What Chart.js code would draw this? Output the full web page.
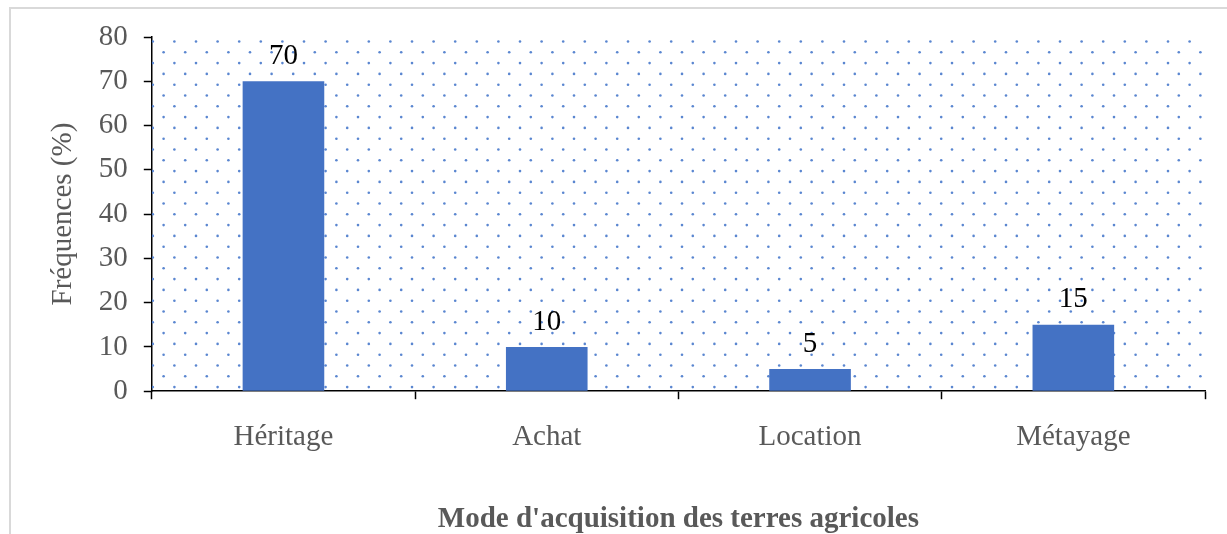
<!DOCTYPE html>
<html>
<head>
<meta charset="utf-8">
<script src="https://cdn.jsdelivr.net/npm/chart.js@4"></script>
<style>
  html, body { margin: 0; padding: 0; background: #fff; overflow: hidden; }
  #frame { position: absolute; left: 9px; top: 7px; width: 1300px; height: 600px; border: 2px solid #d9d9d9; box-sizing: border-box; }
  #wrap { position: absolute; left: 0; top: 0; width: 1227px; height: 534px; }
</style>
</head>
<body>
<div id="frame"></div>
<div id="wrap"><canvas id="chart"></canvas></div>
<script>
// Données du graphique
const categories = ['Héritage', 'Achat', 'Location', 'Métayage'];
const frequences = [70, 10, 5, 15];
const yTicks = [0, 10, 20, 30, 40, 50, 60, 70, 80];

const serif = '"Liberation Serif", "Times New Roman", serif';
const gris = '#595959';

// Fond pointillé de la zone de tracé
const dotsPlugin = {
    id: 'dots',
    beforeDatasetsDraw(chart) {
        const a = chart.chartArea;
        const ctx = chart.ctx;
        const step = 21.6, row = 10.8;
        ctx.save();
        ctx.beginPath();
        ctx.rect(a.left, a.top, a.right - a.left, a.bottom - a.top);
        ctx.clip();
        ctx.fillStyle = '#5a86d0';
        let r = 0;
        for (let y = a.top + 4.5; y < a.bottom; y += row, r++) {
            const off = (r % 2) ? step / 2 : 0;
            for (let x = a.left + 1 + off; x < a.right; x += step) {
                ctx.beginPath();
                ctx.arc(x, y, 1.3, 0, Math.PI * 2);
                ctx.fill();
            }
        }
        ctx.restore();
    }
};

// Étiquettes de valeur au-dessus des barres
const labelsPlugin = {
    id: 'valeurs',
    afterDatasetsDraw(chart) {
        const ctx = chart.ctx;
        const meta = chart.getDatasetMeta(0);
        ctx.save();
        ctx.font = '29px ' + serif;
        ctx.fillStyle = '#000';
        ctx.textAlign = 'center';
        ctx.textBaseline = 'middle';
        meta.data.forEach((bar, i) => {
            ctx.fillText(String(frequences[i]), bar.x, bar.y - 25);
        });
        ctx.restore();
    }
};

new Chart(document.getElementById('chart'), {
    type: 'bar',
    data: {
        labels: categories,
        datasets: [{
            data: frequences,
            backgroundColor: '#4472c4',
            borderWidth: 0,
            categoryPercentage: 1,
            barPercentage: 0.31
        }]
    },
    options: {
        responsive: true,
        maintainAspectRatio: false,
        animation: false,
        layout: { padding: { left: 46, right: 22, top: 37, bottom: 0 } },
        plugins: {
            legend: { display: false },
            tooltip: { enabled: false }
        },
        scales: {
            x: {
                grid: { offset: true, drawOnChartArea: false, tickLength: 8, tickColor: '#000', tickWidth: 1.5 },
                border: { color: '#000', width: 1.5 },
                ticks: { color: gris, font: { family: serif, size: 29 }, padding: 21 },
                title: {
                    display: true,
                    text: "Mode d'acquisition des terres agricoles",
                    color: gris,
                    font: { family: serif, size: 29, weight: 'bold', lineHeight: 1 },
                    padding: { top: 29, bottom: 0 }
                }
            },
            y: {
                min: 0,
                max: 80,
                afterBuildTicks(axis) { axis.ticks = yTicks.map(v => ({ value: v })); },
                grid: { drawOnChartArea: false, tickLength: 8, tickColor: '#000', tickWidth: 1.5 },
                border: { color: '#000', width: 1.5 },
                ticks: { color: gris, font: { family: serif, size: 29 }, padding: 16 },
                title: {
                    display: true,
                    text: 'Fréquences (%)',
                    color: gris,
                    font: { family: serif, size: 29 },
                    padding: { top: 0, bottom: 2 }
                }
            }
        }
    },
    plugins: [dotsPlugin, labelsPlugin]
});
</script>
</body>
</html>
